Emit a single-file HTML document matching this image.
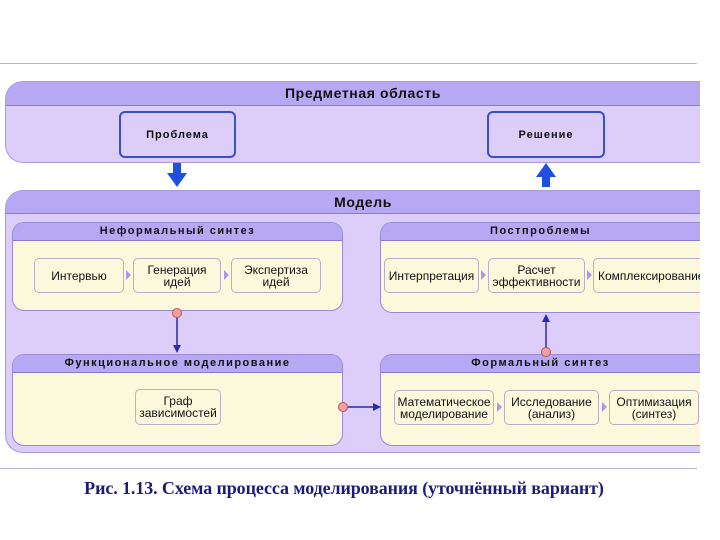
<!DOCTYPE html>
<html><head><meta charset="utf-8"><style>
*{margin:0;padding:0;box-sizing:border-box}
body{width:720px;height:540px;background:#fff;position:relative;overflow:hidden;font-family:"Liberation Sans","DejaVu Sans",sans-serif}
.a{position:absolute}
.hl{position:absolute;left:0;width:697px;height:1px;background:#b8b8c8}
.panel{position:absolute;background:#dccdf9;border:1px solid #a898e0;border-right:none;border-radius:18px 0 0 18px;overflow:hidden}
.panel .hd{position:absolute;left:0;right:0;top:0;background:#b6a8f3;border-bottom:1px solid #8a7ad8;font-weight:bold;font-size:14px;letter-spacing:0.6px;color:#111;text-align:center}
.big{position:absolute;background:#dccdf9;border:2px solid #3550c8;border-radius:6px;font-weight:bold;font-size:11px;letter-spacing:1px;display:flex;align-items:center;justify-content:center;color:#111}
.sub{position:absolute;background:#fbf8dc;border:1px solid #9a8ad8;border-radius:12px;overflow:hidden}
.sub .hd{position:absolute;left:0;right:0;top:0;height:18px;background:#b6a8f3;border-bottom:1px solid #8a7ad8;font-weight:bold;font-size:11px;letter-spacing:1.5px;text-align:center;line-height:17px;color:#111}
.it{position:absolute;background:#fbf8dc;border:1px solid #b8b0c8;border-radius:5px;font-size:12px;line-height:12px;text-align:center;display:flex;align-items:center;justify-content:center;color:#111;white-space:nowrap;overflow:hidden}
.tri{position:absolute;width:0;height:0;border-top:5px solid transparent;border-bottom:5px solid transparent;border-left:5px solid #a898e8}
</style></head><body>
<div class="hl" style="top:63px"></div>
<div class="hl" style="top:468px"></div>

<div class="panel" style="left:5px;top:81px;width:695px;height:82px"><div class="hd" style="height:24px;line-height:23px;padding-left:20px">Предметная область</div></div>
<div class="big" style="left:119px;top:111px;width:117px;height:47px">Проблема</div>
<div class="big" style="left:487px;top:111px;width:118px;height:47px">Решение</div>

<svg class="a" style="left:0;top:0" width="720" height="540">
<polygon points="173,163 181,163 181,173 187,173 177,187 167,173 173,173" fill="#1f4fe0"/>
<polygon points="542,187 550,187 550,177 556,177 546,163 536,177 542,177" fill="#1f4fe0"/>
</svg>

<div class="panel" style="left:5px;top:190px;width:695px;height:263px"><div class="hd" style="height:23px;line-height:22px;padding-left:20px">Модель</div></div>

<div class="sub" style="left:12px;top:222px;width:331px;height:89px"><div class="hd">Неформальный синтез</div></div>
<div class="it" style="left:34px;top:258px;width:90px;height:35px">Интервью</div>
<div class="tri" style="left:126px;top:270px"></div>
<div class="it" style="left:133px;top:258px;width:88px;height:35px">Генерация<br>идей</div>
<div class="tri" style="left:224px;top:270px"></div>
<div class="it" style="left:231px;top:258px;width:90px;height:35px">Экспертиза<br>идей</div>

<div class="sub" style="left:380px;top:222px;width:320px;height:91px;border-radius:12px 0 0 12px;border-right:none"><div class="hd">Постпроблемы</div></div>
<div class="it" style="left:384px;top:258px;width:95px;height:35px">Интерпретация</div>
<div class="tri" style="left:481px;top:270px"></div>
<div class="it" style="left:488px;top:258px;width:97px;height:35px">Расчет<br>эффективности</div>
<div class="tri" style="left:587px;top:270px"></div>
<div class="it" style="left:593px;top:258px;width:107px;height:35px;justify-content:flex-start;padding-left:4px;border-right:none;border-radius:5px 0 0 5px">Комплексирование</div>

<div class="sub" style="left:12px;top:354px;width:331px;height:92px"><div class="hd">Функциональное моделирование</div></div>
<div class="it" style="left:135px;top:389px;width:86px;height:36px">Граф<br>зависимостей</div>

<div class="sub" style="left:380px;top:354px;width:320px;height:92px;border-radius:12px 0 0 12px;border-right:none"><div class="hd">Формальный синтез</div></div>
<div class="it" style="left:394px;top:390px;width:100px;height:35px">Математическое<br>моделирование</div>
<div class="tri" style="left:497px;top:402px"></div>
<div class="it" style="left:504px;top:390px;width:95px;height:35px">Исследование<br>(анализ)</div>
<div class="tri" style="left:602px;top:402px"></div>
<div class="it" style="left:609px;top:390px;width:90px;height:35px">Оптимизация<br>(синтез)</div>

<svg class="a" style="left:0;top:0" width="720" height="540">
<line x1="177" y1="313" x2="177" y2="348" stroke="#2a2ab0" stroke-width="1.5"/>
<polygon points="173,345 181,345 177,353" fill="#2a2ab0"/>
<circle cx="177" cy="313" r="4.5" fill="#f0a0a0" stroke="#c05050"/>
<line x1="343" y1="407" x2="376" y2="407" stroke="#2a2ab0" stroke-width="1.5"/>
<polygon points="373,403 373,411 381,407" fill="#2a2ab0"/>
<circle cx="343" cy="407" r="4.5" fill="#f0a0a0" stroke="#c05050"/>
<line x1="546" y1="352" x2="546" y2="320" stroke="#2a2ab0" stroke-width="1.5"/>
<polygon points="542,322 550,322 546,314" fill="#2a2ab0"/>
<circle cx="546" cy="352" r="4.5" fill="#f0a0a0" stroke="#c05050"/>
</svg>

<div class="a" style="left:84px;top:478px;width:520px;text-align:center;font-family:'Liberation Serif',serif;font-weight:bold;font-size:18px;color:#1c1c78;white-space:nowrap;letter-spacing:-0.1px">Рис. 1.13. Схема процесса моделирования (уточнённый вариант)</div>
</body></html>
